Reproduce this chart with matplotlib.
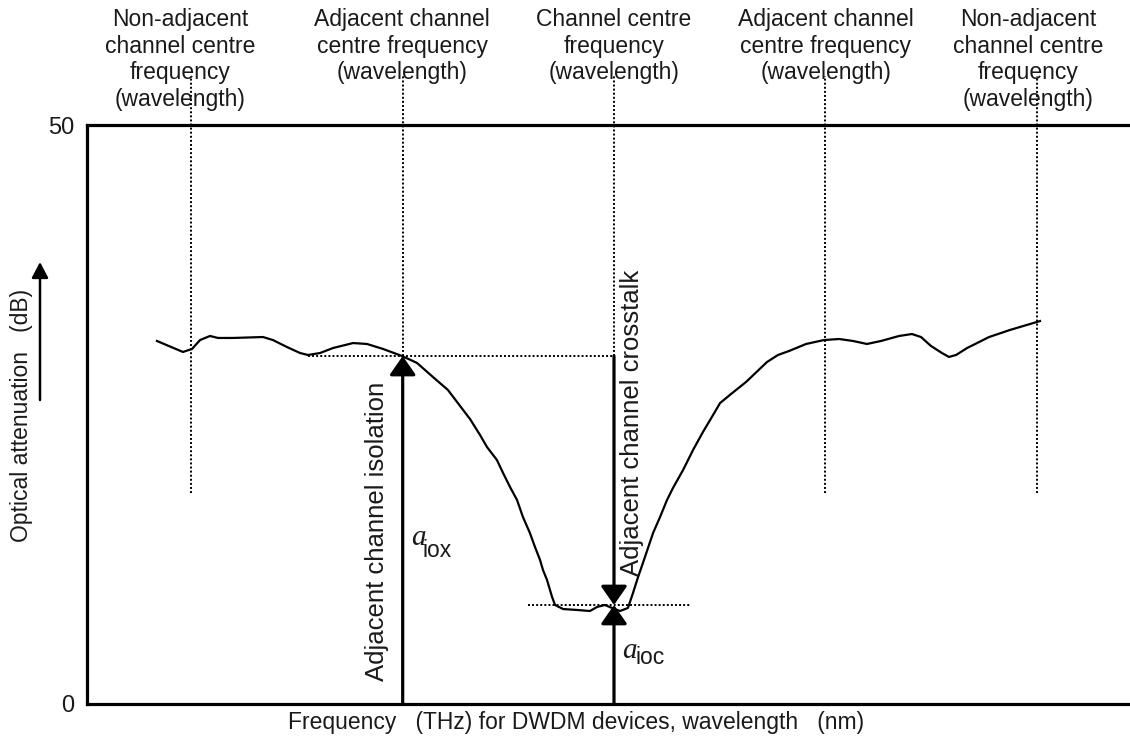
import numpy as np
import matplotlib.pyplot as plt
import matplotlib.transforms as mtransforms
from matplotlib.patches import FancyArrowPatch

plt.rcParams['font.family'] = ['Liberation Sans', 'DejaVu Sans']
plt.rcParams['font.size'] = 16
TXT = '#1a1a1a'

# attenuation curve, x in channel spacings (centre channel = 0), y in dB
curve_x = [-2.163, -2.040, -1.997, -1.959, -1.912, -1.874, -1.803, -1.661, -1.614,
           -1.548, -1.486, -1.448, -1.391, -1.330, -1.235, -1.169, -1.093, -1.003,
           -0.932, -0.857, -0.786, -0.729, -0.681, -0.634, -0.601, -0.554, -0.525,
           -0.492, -0.459, -0.431, -0.398, -0.374, -0.350, -0.336, -0.317, -0.293,
           -0.279, -0.241, -0.175, -0.114, -0.080, -0.043, -0.009, 0.028, 0.066,
           0.090, 0.114, 0.137, 0.185, 0.218, 0.251, 0.279, 0.327, 0.374, 0.421,
           0.469, 0.502, 0.554, 0.625, 0.724, 0.776, 0.828, 0.909, 0.994, 1.065,
           1.131, 1.197, 1.264, 1.349, 1.410, 1.453, 1.500, 1.552, 1.585, 1.619,
           1.671, 1.775, 1.874, 2.016]
curve_y = [31.35, 30.40, 30.66, 31.43, 31.78, 31.61, 31.61, 31.69, 31.43,
           30.83, 30.31, 30.14, 30.31, 30.74, 31.17, 31.09, 30.66, 30.05,
           29.45, 28.24, 27.12, 25.75, 24.60, 23.23, 22.19, 21.07, 19.95,
           18.74, 17.62, 16.15, 14.77, 13.56, 12.44, 11.57, 10.71, 9.24,
           8.55, 8.20, 8.12, 8.03, 8.38, 8.55, 8.29, 8.03, 8.29,
           9.59, 10.97, 12.18, 14.77, 16.15, 17.62, 18.65, 20.21, 21.93, 23.49,
           24.96, 25.99, 26.77, 27.81, 29.53, 30.14, 30.48, 31.09, 31.43, 31.52,
           31.35, 31.09, 31.35, 31.78, 31.95, 31.69, 30.92, 30.31, 29.97, 30.14,
           30.74, 31.69, 32.30, 33.07]

channel_x = [-2, -1, 0, 1, 2]
label_x = [-2.054, -1.003, 0.0, 1.003, 1.959]
channel_labels = ['Non-adjacent\nchannel centre\nfrequency\n(wavelength)',
                  'Adjacent channel\ncentre frequency\n(wavelength)',
                  'Channel centre\nfrequency\n(wavelength)',
                  'Adjacent channel\ncentre frequency\n(wavelength)',
                  'Non-adjacent\nchannel centre\nfrequency\n(wavelength)']

iso_level = 30.05    # adjacent channel level
xt_level = 8.55      # channel centre level
guide_bottom = 18.2
guide_top = 54.2

fig = plt.figure(figsize=(11.3, 7.4), dpi=100)
ax = fig.add_axes([87 / 1130, 1 - 704 / 740, 1 - 87 / 1130, (704 - 125) / 740])
ax.set_xlim(-2.494, 2.442)
ax.set_ylim(0, 50)

ax.spines['right'].set_visible(False)
for s in ['left', 'top', 'bottom']:
    ax.spines[s].set_linewidth(2.3)
ax.set_xticks([])
ax.set_yticks([0, 50])
ax.tick_params(axis='y', length=0, pad=9, labelsize=17, labelcolor=TXT)

dot = (0, (1, 1.1))

# vertical guide lines at channel centres
for cx in channel_x:
    lo = iso_level if cx in (-1, 0) else guide_bottom
    ax.plot([cx, cx], [lo, guide_top], color='black', ls=dot, lw=1.4, clip_on=False)

# horizontal guide lines
ax.plot([-1.448, 0], [iso_level, iso_level], color='black', ls=dot, lw=1.4)
ax.plot([-0.407, 0.36], [xt_level, xt_level], color='black', ls=dot, lw=1.4)

ax.plot(curve_x, curve_y, color='black', lw=1.6, solid_joinstyle='round')

# arrows
head = '-|>,head_length=1.15,head_width=0.8'
for start, end in [((-1, 0), (-1, iso_level)),
                   ((0, iso_level), (0, xt_level)),
                   ((0, 0), (0, xt_level))]:
    ax.annotate('', xy=end, xytext=start,
                arrowprops=dict(arrowstyle=head, color='black', lw=2.3,
                                shrinkA=0, shrinkB=0, mutation_scale=10))

# rotated labels
ax.text(-1.12, 14.9, 'Adjacent channel isolation', rotation=90, ha='center', va='center',
        color=TXT, fontsize=18.5)
ax.text(0.085, 24.3, 'Adjacent channel crosstalk', rotation=90, ha='center', va='center',
        color=TXT, fontsize=18.5)

# a_iox / a_ioc
ax.text(-0.96, 13.7, 'a', family='Liberation Serif', style='italic', fontsize=21,
        color=TXT, ha='left', va='baseline')
ax.text(-0.905, 12.7, 'iox', fontsize=16.5, color=TXT, ha='left', va='baseline')
ax.text(0.04, 3.95, 'a', family='Liberation Serif', style='italic', fontsize=21,
        color=TXT, ha='left', va='baseline')
ax.text(0.1, 3.45, 'ioc', fontsize=16.5, color=TXT, ha='left', va='baseline')

# top labels
trans = mtransforms.blended_transform_factory(ax.transData, fig.transFigure)
for lx, lab in zip(label_x, channel_labels):
    ax.text(lx, 1 - 8 / 740, lab, transform=trans, ha='center', va='top',
            color=TXT, fontsize=16.5, linespacing=1.2)

# axis titles
fig.text(576 / 1130, 1 - 722 / 740, 'Frequency   (THz) for DWDM devices, wavelength   (nm)',
         ha='center', va='center', color=TXT, fontsize=16.5)
fig.text(22 / 1130, 1 - 415 / 740, 'Optical attenuation   (dB)', rotation=90,
         ha='center', va='center', color=TXT, fontsize=16.5)
fig.add_artist(FancyArrowPatch(
    (40 / 1130, 1 - 400 / 740), (40 / 1130, 1 - 262 / 740), transform=fig.transFigure,
    arrowstyle='-|>,head_length=0.95,head_width=0.5', mutation_scale=10,
    color='black', lw=1.8, shrinkA=0, shrinkB=0))

fig.savefig('out.png', dpi=100)
